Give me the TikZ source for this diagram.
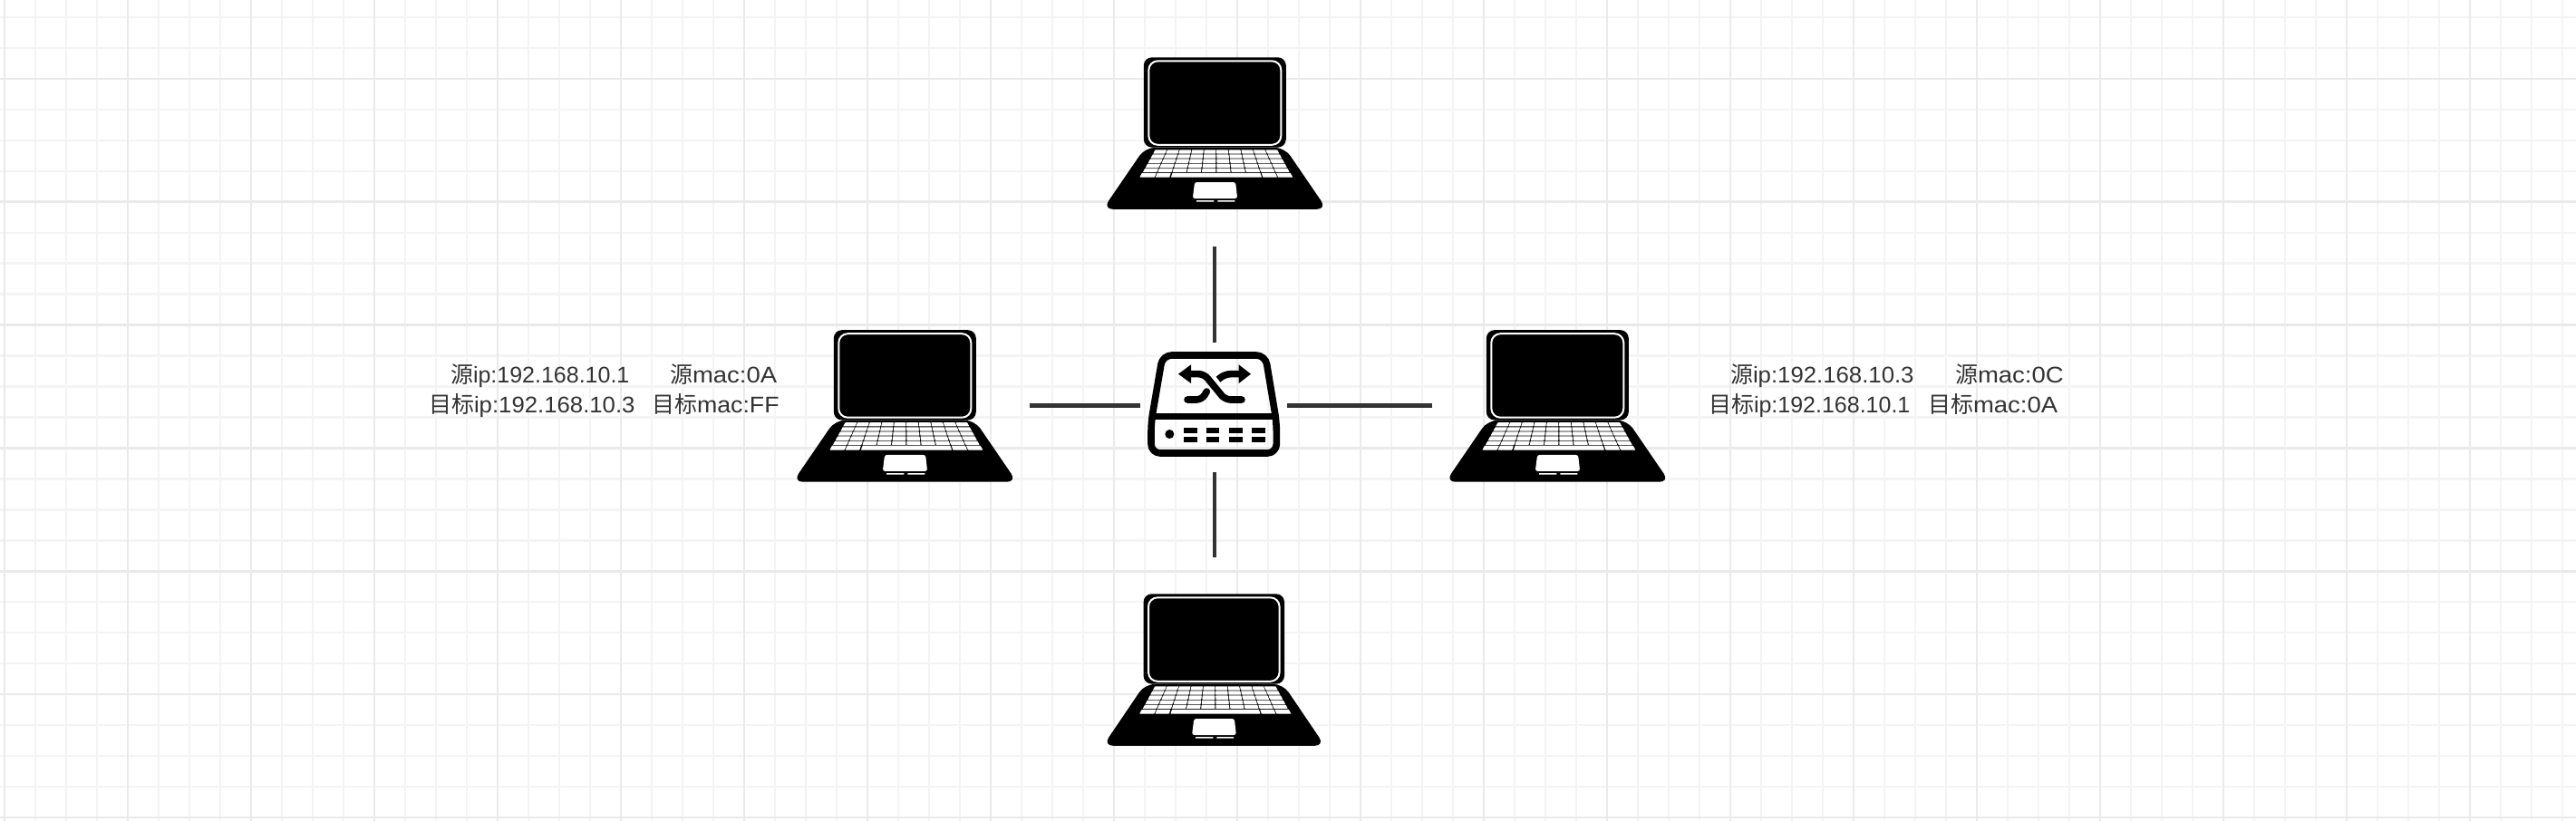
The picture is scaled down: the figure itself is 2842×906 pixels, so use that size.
\documentclass[tikz,border=0pt]{standalone}
\usepackage{fontspec}
\usepackage{graphicx}
\setmainfont{Liberation Sans}
\newfontfamily\cjk{Noto Sans CJK SC}
\definecolor{gridminor}{HTML}{F4F4F4}
\definecolor{gridmajor}{HTML}{EAEAEA}
\definecolor{ink}{HTML}{333333}
\newcommand{\keycell}[4]{%
  \pgfmathsetmacro{\wa}{67.5+17*#3}\pgfmathsetmacro{\wb}{67.5+17*#4}%
  \pgfmathsetmacro{\ya}{101.7+30.6*#3}\pgfmathsetmacro{\yb}{101.7+30.6*#4}%
  \pgfmathsetmacro{\xa}{1.5-\wa+2*\wa*#1}\pgfmathsetmacro{\xb}{1.5-\wa+2*\wa*#2}%
  \pgfmathsetmacro{\xc}{1.5-\wb+2*\wb*#2}\pgfmathsetmacro{\xd}{1.5-\wb+2*\wb*#1}%
  \fill[white,rounded corners=0.5pt] (\xa,\ya) -- (\xb,\ya) -- (\xc,\yb) -- (\xd,\yb) -- cycle;%
}
\newcommand{\macwide}[1]{\scalebox{1.1}[1]{#1}}
\newcommand{\macff}[1]{\scalebox{1.07}[1]{#1}}
\newcommand{\ipwide}[1]{\scalebox{1.03}[1]{#1}}
\tikzset{
  x=1pt,y=-1pt,
  hold/.style={inner sep=0pt,outer sep=0pt,minimum width=#1},
  label text/.style={anchor=base west,inner sep=0pt,outer sep=0pt,text=ink,font=\fontsize{25}{30}\selectfont},
  wire/.style={draw=ink,line width=4.7pt},
  pics/laptop/.style={code={
    \fill[black,rounded corners=9pt] (-78.5,0) rectangle (78.5,99.3);
    \fill[black,rounded corners=11pt] (-77,99.5) -- (77,99.5) -- (123.5,167.5) -- (-123.5,167.5) -- cycle;
    \draw[white,line width=2pt,rounded corners=10pt] (-73,4) rectangle (73,96.5);
    \foreach \r in {0,1,2,3,4}{
      \foreach \c in {0,...,9}{
        \pgfmathsetmacro{\ua}{\c*0.1+0.003}\pgfmathsetmacro{\ub}{\c*0.1+0.097}
        \pgfmathsetmacro{\va}{\r*0.1665+0.008}\pgfmathsetmacro{\vb}{\r*0.1665+0.149}
        \keycell{\ua}{\ub}{\va}{\vb}
      }
    }
    \keycell{0}{0.097}{0.843}{1}
    \keycell{0.103}{0.195}{0.843}{1}
    \keycell{0.205}{0.797}{0.843}{1}
    \keycell{0.805}{0.898}{0.843}{1}
    \keycell{0.904}{1}{0.843}{1}
    \fill[white,rounded corners=2.5pt] (-22.2,137.7) -- (22.8,137.7) -- (24.8,155.7) -- (-24.5,155.7) -- cycle;
    \fill[white] (-20.3,157.8) rectangle (-1,159.4) (3,157.8) rectangle (22,159.4);
  }}
}
\begin{document}
\begin{tikzpicture}
\useasboundingbox (0,0) rectangle (2842,906);
\fill[white] (0,0) rectangle (2842,906);

% grid
\foreach \k in {0,...,83}{
  \pgfmathtruncatemacro{\m}{mod(\k,4)}
  \pgfmathsetmacro{\gx}{5+34*\k}
  \ifnum\m=0\relax\else \draw[gridminor,line width=2.4pt] (\gx,0) -- (\gx,906); \fi
}
\foreach \k in {0,...,26}{
  \pgfmathtruncatemacro{\m}{mod(\k,4)}
  \pgfmathsetmacro{\gy}{19+33.96*\k}
  \ifnum\m=2\relax\else \draw[gridminor,line width=2.4pt] (0,\gy) -- (2842,\gy); \fi
}
\foreach \k in {0,4,...,80}{
  \pgfmathsetmacro{\gx}{5+34*\k}
  \draw[gridmajor,line width=2.6pt] (\gx,0) -- (\gx,906);
}
\foreach \k in {2,6,...,26}{
  \pgfmathsetmacro{\gy}{19+33.96*\k}
  \draw[gridmajor,line width=2.6pt] (0,\gy) -- (2842,\gy);
}

% laptops
\pic at (1340.3,63.3) {laptop};
\pic at (998.3,364.2) {laptop};
\pic at (1718.3,364.2) {laptop};
\pic[xscale=0.99] at (1339.3,655.3) {laptop};

% port areas for the connectors
\node[hold=240pt,minimum height=209pt] (lapT) at (1340,167.8) {};
\node[hold=240pt,minimum height=208.6pt] (lapB) at (1340,719) {};
\node[hold=257pt,minimum height=168pt] (lapL) at (1007.5,447.5) {};
\node[hold=258pt,minimum height=168pt] (lapR) at (1709.3,447.5) {};
\node[hold=161.7pt,minimum height=143pt] (sw) at (1339.15,449.2) {};

\draw[wire] (lapT.south) -- (lapT.south |- sw.north);
\draw[wire] (lapB.north) -- (lapB.north |- sw.south);
\draw[wire] (lapL.east) -- (lapL.east -| sw.west);
\draw[wire] (lapR.west) -- (lapR.west -| sw.east);

% switch
\begin{scope}[shift={(1240,360)},x=0.3333pt,y=-0.3333pt]
  \draw[black,line width=7.6pt,rounded corners=10pt,line join=round]
    (90,318) -- (128,96) -- (468,96) -- (505,318) -- (505,420) -- (90,420) -- cycle;
  \draw[black,line width=6.8pt] (90,298) -- (505,298);
  \fill[black] (151,357) circle[radius=15];
  \foreach \xx in {199,272,349,423}{
    \fill[black] (\xx,335) rectangle ++(44,20);
    \fill[black] (\xx,365) rectangle ++(44,20);
  }
  \draw[black,line width=7.6pt,line cap=round,rounded corners=6pt]
    (390,243) -- (335,243) -- (265,158) -- (215,158);
  \fill[black] (180,158) -- (222,127) -- (222,189) -- cycle;
  \draw[black,line width=7.6pt,rounded corners=6pt]
    (312,176) -- (335,158) -- (385,158);
  \fill[black] (420,158) -- (380,127) -- (380,189) -- cycle;
  \draw[black,line width=7.6pt,line cap=round,rounded corners=6pt]
    (210,243) -- (258,243) -- (274,216);
\end{scope}

% labels
\node[label text] (l1) at (497,422.5) {{\cjk 源}ip:192.168.10.1};
\node[label text] (l2) at (739,422.5) {{\cjk 源}\macwide{mac:0A}};
\node[label text] (l3) at (473,455.5) {{\cjk 目标}\ipwide{ip:192.168.10.3}};
\node[label text] (l4) at (719,455.5) {{\cjk 目标}\macff{mac:FF}};
\node[label text] (r1) at (1909,422.5) {{\cjk 源}\ipwide{ip:192.168.10.3}};
\node[label text] (r2) at (2157,422.5) {{\cjk 源}\macwide{mac:0C}};
\node[label text] (r3) at (1885,455.5) {{\cjk 目标}ip:192.168.10.1};
\node[label text] (r4) at (2127,455.5) {{\cjk 目标}\macwide{mac:0A}};
\end{tikzpicture}
\end{document}
